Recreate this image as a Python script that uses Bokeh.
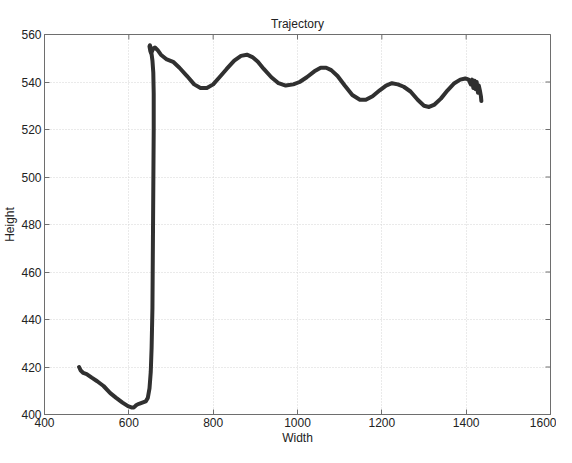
import math
from bokeh.plotting import figure
from bokeh.models import Range1d, FixedTicker
from bokeh.embed import file_html
from bokeh.resources import INLINE

# Trajectory data (Width, Height)
width_vals = [482, 486, 492, 500, 512, 525, 540, 556, 570, 585, 598, 606, 612, 618,
              624, 632, 640, 645, 649, 652, 654, 656, 657, 658, 659, 659, 658, 656,
              653, 650, 649, 651, 653, 657, 662, 668, 676, 690, 705, 720, 738, 755,
              770, 785, 800, 815, 832, 850, 866, 880, 893, 906, 920, 938, 955, 972,
              990, 1005, 1022, 1040, 1055, 1068, 1080, 1095, 1112, 1130, 1148, 1162,
              1178, 1195, 1210, 1224, 1238, 1252, 1268, 1285, 1300, 1312, 1325, 1340,
              1356, 1372, 1386, 1398, 1406, 1411, 1414, 1417, 1420, 1422, 1425, 1428,
              1430, 1433, 1435, 1436]
height_vals = [420, 418.5, 417.5, 417, 415.5, 414, 412, 409, 407, 405, 403.5, 403, 403,
               404, 404.5, 405, 405.5, 407, 411, 418, 428, 445, 470, 495, 520, 535,
               544, 549, 553, 555.5, 555, 553, 552, 554, 554.5, 553.5, 551.5, 549.5,
               548.5, 546, 542.5, 539, 537.5, 537.5, 539, 542, 545.5, 549, 551, 551.5,
               550.5, 548.5, 545.5, 542, 539.5, 538.5, 539, 540, 542, 544.5, 546, 546,
               545, 542.5, 538.5, 534.5, 532.5, 532.5, 534, 536.5, 538.5, 539.5, 539,
               538, 536, 532.5, 530, 529.5, 530.5, 533, 536.5, 539.5, 541, 541.5, 541,
               539, 541, 537.5, 540.5, 537, 540, 535.5, 538.5, 536, 534, 532]

x_ticks = [400, 600, 800, 1000, 1200, 1400, 1600]
y_ticks = [400, 420, 440, 460, 480, 500, 520, 540, 560]
x_min, x_max = 400, 1600
y_min, y_max = 400, 560

FONT = "Liberation Sans"
AXIS_COLOR = "#6e6e6e"

p = figure(width=556, height=447, output_backend="svg", toolbar_location=None,
           x_range=Range1d(x_min, x_max), y_range=Range1d(y_min, y_max),
           title="Trajectory", x_axis_label="Width", y_axis_label="Height",
           min_border_left=8, min_border_right=6, min_border_top=34, min_border_bottom=2)

p.background_fill_color = "white"
p.border_fill_color = "white"
p.outline_line_color = AXIS_COLOR
p.outline_line_width = 1

p.title.align = "center"
p.title.text_font = FONT
p.title.text_font_size = "12px"
p.title.text_font_style = "normal"
p.title.text_color = "#222222"
p.title.standoff = 8

p.line(width_vals, height_vals, line_color="#303030", line_width=4,
       line_join="round", line_cap="round")

for ax in (p.xaxis[0], p.yaxis[0]):
    ax.axis_line_color = AXIS_COLOR
    ax.major_tick_in = 5
    ax.major_tick_out = 0
    ax.minor_tick_line_color = None
    ax.major_tick_line_color = AXIS_COLOR
    ax.major_label_text_font = FONT
    ax.major_label_text_font_size = "12px"
    ax.major_label_text_color = "#222222"
    ax.axis_label_text_font = FONT
    ax.axis_label_text_font_size = "12px"
    ax.axis_label_text_font_style = "normal"
    ax.axis_label_text_color = "#222222"
    ax.major_label_standoff = 3
    ax.axis_label_standoff = 1

p.xaxis[0].ticker = FixedTicker(ticks=x_ticks)
p.yaxis[0].ticker = FixedTicker(ticks=y_ticks)

# inward tick marks on the top and right edges of the box (MATLAB style)
p.scatter(x_ticks, [y_max] * len(x_ticks), marker="dash", angle=math.pi / 2,
          size=10, line_color=AXIS_COLOR, line_width=1)
p.scatter([x_max] * len(y_ticks), y_ticks, marker="dash",
          size=10, line_color=AXIS_COLOR, line_width=1)

p.xgrid.ticker = FixedTicker(ticks=x_ticks)
p.ygrid.ticker = FixedTicker(ticks=y_ticks)
for g in (p.xgrid[0], p.ygrid[0]):
    g.grid_line_color = "#d4d4d4"
    g.grid_line_dash = "1 2"
    g.grid_line_width = 1

open("out.html", "w").write(file_html(p, INLINE))
